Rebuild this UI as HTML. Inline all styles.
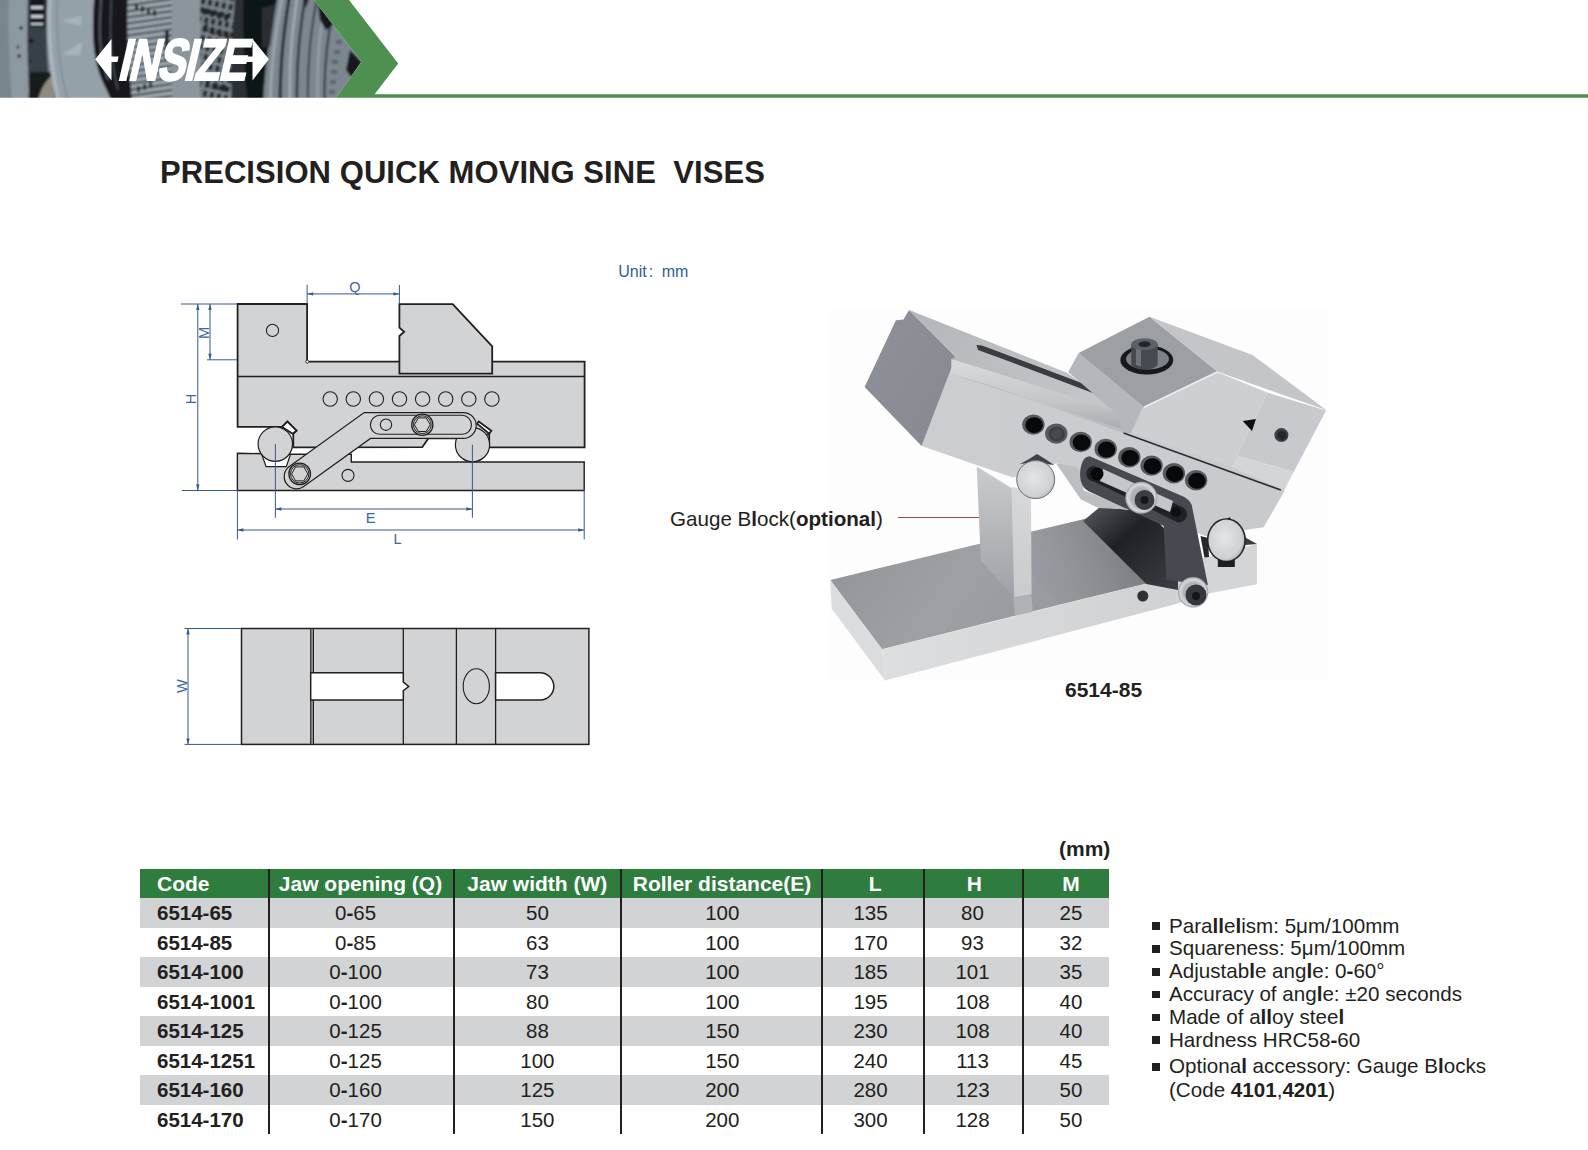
<!DOCTYPE html>
<html><head><meta charset="utf-8">
<style>
*{margin:0;padding:0;box-sizing:border-box}
html,body{width:1588px;height:1150px;overflow:hidden;background:#fff}
body{position:relative;font-family:"Liberation Sans",sans-serif;color:#231f20}
.abs{position:absolute}
#title{left:160px;top:155px;font-size:31px;font-weight:bold;white-space:pre;letter-spacing:0.06px}
#unit{left:618.3px;top:262.5px;font-size:16px;color:#2d5e9c;white-space:pre}
#gauge{left:670px;top:506.5px;font-size:20.6px;white-space:pre}
#gline{left:898px;top:516.6px;width:81px;height:1.3px;background:#a84a40}
#model{left:1065px;top:677.5px;font-size:21px;font-weight:bold}
#mm{left:1059px;top:837px;font-size:21px;font-weight:bold}
.row{position:absolute;left:140px;width:969px;height:29.5px}
.g{background:#d1d3d4}
.hdr{background:#2e7d3e;color:#fff;font-weight:bold}
.c{position:absolute;top:0;height:100%;line-height:29.5px;font-size:20.5px;text-align:center;white-space:nowrap}
.h{font-size:21px;line-height:29.2px}
.vl{position:absolute;top:869px;height:265px;width:2px;background:#231f20}
#bul{left:1152px;top:914.6px;font-size:20.6px;line-height:22.8px}
#bul div{position:relative;padding-left:17px;white-space:nowrap}
#bul .b:before{content:"";position:absolute;left:0;top:7.9px;width:8px;height:7.5px;background:#231f20}
</style></head>
<body>
<!-- HEADER -->
<svg class="abs" style="left:0;top:0" width="1588" height="100" viewBox="0 0 1588 100">
  <defs>
    <clipPath id="hc"><polygon points="0,0 314,0 361.5,62 336,97.7 0,97.7"/></clipPath>
    <filter id="bl" x="-5%" y="-5%" width="110%" height="110%"><feGaussianBlur stdDeviation="1.2"/></filter>
    <pattern id="pt1" width="8" height="6" patternUnits="userSpaceOnUse" patternTransform="rotate(-8)"><rect width="8" height="6" fill="#9aa5ac"/><rect y="4" width="8" height="2" fill="#3e464d"/></pattern>
    <pattern id="pt2" width="7" height="9" patternUnits="userSpaceOnUse" patternTransform="rotate(12)"><rect width="7" height="9" fill="#7a858c"/><rect x="1" y="1" width="4" height="6" fill="#1f252a"/></pattern>
    <linearGradient id="dg" x1="0" y1="0" x2="1" y2="0"><stop offset="0" stop-color="#2a3035"/><stop offset="1" stop-color="#14181b"/></linearGradient>
  </defs>
  <g clip-path="url(#hc)">
   <g filter="url(#bl)">
    <rect x="-10" y="-10" width="390" height="120" fill="#737e86"/>
    <rect x="-10" y="-10" width="20" height="120" fill="#7a868e"/>
    <path d="M9,-10 H29 C27,30 27,60 30,108 H12 C9,60 8,30 9,-10Z" fill="#8d99a1"/>
    <path d="M28,-10 H48 C45,30 46,60 52,108 H30 C27,60 27,30 28,-10Z" fill="#394046"/>
    <path d="M30,-10 H45 V27 H30Z" fill="#16191c"/>
    <rect x="31" y="6" width="12" height="3" fill="#c4ccd1"/>
    <rect x="31" y="15" width="12" height="3" fill="#c4ccd1"/>
    <rect x="31" y="23" width="12" height="2" fill="#c4ccd1"/>
    <path d="M30,72 L50,72 L58,108 L28,108Z" fill="#171a1e"/>
    <path d="M36,108 C40,88 46,80 52,76 L56,108Z" fill="#8f8b7e"/>
    <circle cx="21" cy="28" r="1.8" fill="#1b1f23"/><circle cx="31" cy="41" r="2.5" fill="#1b1f23"/>
    <circle cx="18" cy="47" r="1.5" fill="#2a3035"/><circle cx="19" cy="56" r="1.8" fill="#1b1f23"/><circle cx="30" cy="61" r="1.6" fill="#1b1f23"/>
    <path d="M50,-10 H95 C91,30 93,55 100,75 C104,86 109,93 114,108 H60 C51,75 47,40 50,-10Z" fill="#95a1a9"/>
    <path d="M50,-10 C47,40 51,75 60,108" stroke="#acb6bd" stroke-width="4" fill="none"/>
    <path d="M58,-10 C55,40 60,75 70,108" stroke="#808c94" stroke-width="1.5" fill="none"/>
    <path d="M62,20 L82,16 L80,26Z M62,55 L82,42 L80,55Z" fill="#aab4bb"/>
    <path d="M95,-10 H130 C126,30 128,60 133,108 H114 C109,93 104,86 100,75 C93,55 91,30 95,-10Z" fill="#15191c"/>
    <path d="M102,-10 C98,30 99,55 108,80" stroke="#4d565d" stroke-width="2" fill="none"/>
    <path d="M112,-10 C109,30 110,60 118,90" stroke="#3d454b" stroke-width="2" fill="none"/>
    <path d="M128,-10 H172 V108 H133 C128,60 126,30 128,-10Z" fill="url(#pt1)"/>
    <rect x="172" y="-10" width="28" height="120" fill="#8a959c"/>
    <rect x="200" y="-10" width="45" height="120" fill="url(#pt2)"/>
    <g fill="#20252a">
     <rect x="135" y="4" width="3" height="6"/><rect x="141" y="6" width="3" height="6"/><rect x="147" y="8" width="3" height="6"/><rect x="153" y="10" width="3" height="6"/>
     <rect x="137" y="86" width="3" height="6"/><rect x="143" y="84" width="3" height="6"/><rect x="149" y="82" width="3" height="6"/>
     <rect x="203" y="8" width="4" height="7"/><rect x="210" y="10" width="4" height="7"/><rect x="217" y="12" width="4" height="7"/><rect x="224" y="14" width="4" height="7"/>
     <rect x="204" y="24" width="4" height="8"/><rect x="211" y="27" width="4" height="8"/><rect x="218" y="29" width="4" height="8"/><rect x="225" y="31" width="4" height="8"/>
     <rect x="222" y="84" width="4" height="8"/><rect x="214" y="82" width="4" height="8"/><rect x="206" y="80" width="4" height="8"/>
     <rect x="165" y="30" width="4" height="30"/>
    </g>
    <path d="M236,-10 H262 C257,30 258,60 264,108 H232 C230,60 232,30 236,-10Z" fill="#2a2f34"/>
    <path d="M244,-10 H262 C257,30 258,60 264,108 H248 C244,60 242,30 244,-10Z" fill="#0f1215"/>
    <path d="M262,-10 H370 V108 H262Z" fill="#7c868e"/>
    <path d="M258,-10 H279 C271,30 265,60 263,108 H250Z" fill="#101316"/>
    <path d="M262,8 L276,4 L270,46 L262,48Z" fill="#2a2e33"/>
    <path d="M283,-8 C276,30 271,60 270,108" stroke="#9aa4ab" stroke-width="3" fill="none"/>
    <path d="M290,-8 C284,30 280,60 280,108" stroke="#22282d" stroke-width="3" fill="none"/>
    <path d="M298,-8 C292,30 289,60 290,108" stroke="#a2acb3" stroke-width="2.5" fill="none"/>
    <path d="M306,-8 C300,30 296,60 297,108" stroke="#2a3036" stroke-width="2.5" fill="none"/>
    <path d="M318,-8 C311,30 307,60 308,108" stroke="#353c42" stroke-width="2" fill="none"/>
    <path d="M326,0 C320,30 316,60 318,108" stroke="#9aa4ab" stroke-width="2" fill="none"/>
    <path d="M333,10 C327,40 323,70 325,108" stroke="#2a3036" stroke-width="2" fill="none"/>
    <g fill="#5b656c"><rect x="336" y="40" width="6" height="4"/><rect x="334" y="50" width="6" height="4"/><rect x="332" y="60" width="6" height="4"/><rect x="331" y="70" width="6" height="4"/><rect x="330" y="80" width="6" height="4"/><rect x="329" y="90" width="6" height="4"/></g>
    <path d="M316,-10 L336,-10 L340,20 L326,30 L320,20Z" fill="#14171a"/>
    <path d="M300,-10 L312,-10 L306,8Z" fill="#20252a"/>
    <path d="M350,50 L362,62 L352,78 L346,70Z" fill="#14171a"/>
   </g>
  </g>
  <polygon points="314,0 349,0 398.2,63.5 374.6,94.2 1588,94.2 1588,97.7 336,97.7 361.5,62" fill="#4e8f52"/>
  <!-- logo -->
  <g fill="#fff">
    <polygon points="95.2,59.3 111.5,38.9 111.5,56.6 118.5,56.6 117.5,62 111.5,62 111.5,80.4"/>
    <polygon points="268.9,59.3 252.5,38.9 252.5,56.6 246.5,56.6 245.5,62 252.5,62 252.5,80.4"/>
    <text x="0" y="0" font-family="Liberation Sans" font-weight="bold" font-size="58.5" stroke="#fff" stroke-width="2.2" stroke-linejoin="miter" transform="translate(117,80.2) skewX(-13) scale(0.71,1)" letter-spacing="-1.5">INSIZE</text>
  </g>
</svg>
<!-- DRAWING -->
<svg class="abs" style="left:160px;top:270px" width="450" height="490" viewBox="160 270 450 490">
<g fill="#d1d3d4" stroke="#231f20" stroke-linejoin="miter">
 <!-- base -->
 <polygon stroke-width="1.4" points="237.4,453.2 290.5,454.3 351.3,454.3 351.3,462 584.2,462 584.2,490.5 237.4,490.5"/>
 <polygon fill="#fff" stroke-width="1.2" points="261.7,454.3 266.1,466.6 286.3,466.6 290.5,454.3"/>
 <!-- body -->
 <polygon stroke-width="1.8" points="237.6,304 307.1,304 307.1,361.7 584.6,361.7 584.6,447.4 489.2,447.4 489.2,434 472.5,438.4 428.3,438.4 422.3,447.2 293.3,447.3 293.3,433.5 296.5,430.7 287.4,421.6 282.1,426.9 237.6,426.9"/>
 <line x1="237.6" y1="376.5" x2="584.6" y2="376.5" stroke-width="1.4"/>
 <path fill="#fff" stroke-width="1" d="M305.6,361.7 L307.1,359.6 L309,361.7 L307.1,363.6 Z"/>
 <!-- moving jaw -->
 <polygon stroke-width="1.8" points="399.4,304.1 452.7,304.1 492.2,346.3 492.2,373.6 399.4,373.6 399.4,336 404.2,331.8 399.4,327.6"/>
 <circle cx="272.5" cy="330.4" r="6.1" stroke-width="1.1"/>
 <g stroke-width="1.1" fill="none"><circle cx="330.2" cy="399" r="7.2"/><circle cx="353.3" cy="399" r="7.2"/><circle cx="376.4" cy="399" r="7.2"/><circle cx="399.5" cy="399" r="7.2"/><circle cx="422.6" cy="399" r="7.2"/><circle cx="445.7" cy="399" r="7.2"/><circle cx="468.8" cy="399" r="7.2"/><circle cx="491.9" cy="399" r="7.2"/></g>
 <!-- diamonds -->
 <polygon fill="#fff" stroke-width="1.8" points="282.1,426.9 287.4,421.6 296.5,430.7 292.7,433.8"/>
 <polygon fill="#fff" stroke-width="1.8" points="477,423.7 478.7,421.4 491.4,430.7 489.2,433.8"/>
 <!-- rollers -->
 <circle cx="275.3" cy="444.1" r="17.2" stroke-width="1.2"/>
 <circle cx="472.5" cy="444.7" r="17.1" stroke-width="1.2"/>
 <!-- link -->
 <path stroke-width="1.2" d="M289.3,466.5 L364.2,412.6 L463.3,412.6 A12.9,12.9 0 0 1 463.3,438.4 L370.5,438.4 L303.7,486.5 A12.3,12.3 0 0 1 289.3,466.5 Z"/>
 <path stroke-width="1.1" d="M379.9,415.3 H462 A9.5,9.5 0 0 1 462,434.3 H379.9 A9.5,9.5 0 0 1 379.9,415.3 Z"/>
 <circle cx="386" cy="424.7" r="5.7" stroke-width="1.1"/>
 <circle cx="422.3" cy="424.7" r="10.6" stroke-width="1.3"/>
 <circle cx="422.3" cy="424.7" r="8.9" stroke-width="1"/>
 <polygon stroke-width="1" points="430.2,424.7 426.2,431.5 418.4,431.5 414.4,424.7 418.4,417.9 426.2,417.9"/>
 <circle cx="299.7" cy="473.9" r="10.8" stroke-width="1.3"/>
 <circle cx="299.7" cy="473.9" r="9.2" stroke-width="1"/>
 <polygon stroke-width="1" points="307.8,473.9 303.8,480.9 295.6,480.9 291.6,473.9 295.6,466.9 303.8,466.9"/>
 <circle cx="348" cy="475.4" r="6" stroke-width="1.1"/>
 <!-- top view -->
 <rect x="241.5" y="628.5" width="347.4" height="115.9" stroke-width="1.5"/>
 <rect x="310.7" y="628.5" width="2.8" height="115.9" fill="#8d8f91" stroke-width="1"/>
 <line x1="403.3" y1="628.5" x2="403.3" y2="744.4" stroke-width="1.3"/>
 <line x1="456.4" y1="628.5" x2="456.4" y2="744.4" stroke-width="1.3"/>
 <line x1="495.6" y1="628.5" x2="495.6" y2="744.4" stroke-width="1.3"/>
 <path fill="#fff" stroke-width="1.5" d="M310.7,672.7 H403.3 V682.1 L408.7,686.5 L403.3,690.6 V700.1 H310.7 Z"/>
 <path fill="#fff" stroke-width="1.5" d="M495.6,672.7 H540.1 A13.7,13.7 0 0 1 540.1,700.1 H495.6 Z"/>
 <ellipse cx="476.3" cy="686.3" rx="13.1" ry="17.5" stroke-width="1.1"/>
</g>
<g stroke="#34598f" stroke-width="1" fill="none">
 <path d="M180.9,304 H237 M182,490.5 H237 M197.8,304 V490.5 M207,359.8 H237 M210,304 V359.8"/>
 <path d="M307.1,284.8 V304 M399.4,285 V304 M307.1,293.9 H399.4"/>
 <path d="M275.4,444 V517.8 M472.4,444.7 V517.8 M275.4,509 H472.4"/>
 <path d="M237.4,490 V539.4 M584.2,490 V539.4 M237.4,530 H584.2"/>
 <path d="M184.6,628.5 H241 M184.6,744.4 H241 M188,628.5 V744.4"/>
</g>
<g fill="#34598f">
 <polygon points="197.8,304 196.10000000000002,310 199.5,310"/><polygon points="197.8,490.5 196.10000000000002,484.5 199.5,484.5"/>
 <polygon points="210,304 208.3,310 211.7,310"/><polygon points="210,359.8 208.3,353.8 211.7,353.8"/>
 <polygon points="307.1,293.9 313.1,292.2 313.1,295.59999999999997"/><polygon points="399.4,293.9 393.4,292.2 393.4,295.59999999999997"/>
 <polygon points="275.4,509 281.4,507.3 281.4,510.7"/><polygon points="472.4,509 466.4,507.3 466.4,510.7"/>
 <polygon points="237.4,530 243.4,528.3 243.4,531.7"/><polygon points="584.2,530 578.2,528.3 578.2,531.7"/>
 <polygon points="188,628.5 186.3,634.5 189.7,634.5"/><polygon points="188,744.4 186.3,738.4 189.7,738.4"/>
</g>
<g fill="#3b67a6" font-family="Liberation Sans" font-size="14.5">
 <text x="355" y="292" text-anchor="middle">Q</text>
 <text x="370.5" y="523.2" text-anchor="middle">E</text>
 <text x="397.6" y="544" text-anchor="middle">L</text>
 <text transform="translate(209.2,333) rotate(-90)" text-anchor="middle">M</text>
 <text transform="translate(195.9,398.9) rotate(-90)" text-anchor="middle">H</text>
 <text transform="translate(186.9,686.1) rotate(-90)" text-anchor="middle">W</text>
</g>
</svg>
<!-- PHOTO -->
<svg class="abs" style="left:820px;top:300px" width="520" height="390" viewBox="820 300 520 390">
<defs>
 <linearGradient id="pbase" x1="0" y1="0" x2="1" y2="0.3"><stop offset="0" stop-color="#909398"/><stop offset="0.5" stop-color="#9da0a4"/><stop offset="1" stop-color="#94979b"/></linearGradient>
 <linearGradient id="pfront" x1="0" y1="0" x2="1" y2="0"><stop offset="0" stop-color="#dcdee0"/><stop offset="1" stop-color="#cfd1d3"/></linearGradient>
 <linearGradient id="pgl" x1="0" y1="0" x2="0" y2="1"><stop offset="0" stop-color="#c9cbce"/><stop offset="1" stop-color="#9fa2a6"/></linearGradient>
 <linearGradient id="pgf" x1="0" y1="0" x2="0" y2="1"><stop offset="0" stop-color="#d6d8da"/><stop offset="1" stop-color="#c9cbcd"/></linearGradient>
 <linearGradient id="pdark" x1="0" y1="0" x2="1" y2="1"><stop offset="0" stop-color="#55585d"/><stop offset="0.4" stop-color="#1f2225"/><stop offset="1" stop-color="#3b3e42"/></linearGradient>
 <linearGradient id="pend" x1="0" y1="0" x2="1" y2="1"><stop offset="0" stop-color="#8e9197"/><stop offset="1" stop-color="#868a90"/></linearGradient>
 <linearGradient id="ptop" x1="0" y1="0" x2="1" y2="0.4"><stop offset="0" stop-color="#b3b6ba"/><stop offset="1" stop-color="#c3c5c8"/></linearGradient>
 <linearGradient id="pband" x1="0" y1="0" x2="0" y2="1"><stop offset="0" stop-color="#d9dbdd"/><stop offset="0.6" stop-color="#c4c6c9"/><stop offset="1" stop-color="#a7aaae"/></linearGradient>
 <linearGradient id="pbody" x1="0" y1="0" x2="1" y2="0"><stop offset="0" stop-color="#cbcdd0"/><stop offset="1" stop-color="#c8cacd"/></linearGradient>
 <linearGradient id="pshadow" x1="1" y1="0" x2="0" y2="0.3"><stop offset="0" stop-color="#6a6d72" stop-opacity="0.9"/><stop offset="1" stop-color="#8f9297" stop-opacity="0"/></linearGradient>
 <radialGradient id="proll" cx="0.45" cy="0.45" r="0.6"><stop offset="0" stop-color="#e4e5e7"/><stop offset="0.8" stop-color="#cfd1d4"/><stop offset="1" stop-color="#a9acb0"/></radialGradient>
 <radialGradient id="pwash" cx="0.5" cy="0.5" r="0.5"><stop offset="0.6" stop-color="#aeb1b5"/><stop offset="0.85" stop-color="#d8dadc"/><stop offset="1" stop-color="#9a9da1"/></radialGradient>
</defs>
<rect x="829" y="310" width="499" height="371" fill="#fdfdfd"/>
<!-- base plate -->
<polygon points="830.3,579.9 979.6,543.7 1087,518.5 1146.3,583.5 1020,614.6 882.1,649.3" fill="url(#pbase)"/>
<polygon points="830.3,579.9 882.1,649.3 885,680.4 831.8,608.7" fill="#dadcde"/>
<polygon points="882.1,649.3 1146.3,583.5 1176.9,576 1176.9,603.7 885,680.4" fill="url(#pfront)"/>
<polygon points="1176.9,576 1204.4,557.4 1257,544 1257,584.2 1207.2,593.8 1176.9,603.7" fill="#d3d5d7"/>
<circle cx="1142.8" cy="596" r="5.5" fill="#2d3034"/>
<polygon points="1000,539 1087,518.5 1146.3,583.5 1060,604" fill="url(#pshadow)"/>
<polygon points="1013.2,597.5 1031.3,595.2 1033,612 1015,616" fill="#b4b7ba" opacity="0.8"/>
<!-- dark rail block -->
<polygon points="1083,521 1100,507 1150,512 1178,545 1178,590 1146.3,584" fill="url(#pdark)"/>
<!-- right roller seat -->
<polygon points="1200.5,536 1208,538 1209,557 1204.4,557.4" fill="#26282c"/>
<polygon points="1243.6,536.4 1257,544 1245.5,545" fill="#3a3d42"/>
<!-- gauge block -->
<polygon points="976.7,466.4 1013,489 1014.2,597.2 980.9,561" fill="url(#pgl)"/>
<polygon points="1011.5,487 1030.9,490 1031.6,594.4 1014.2,597.2" fill="url(#pgf)"/>
<!-- hinge slanted piece -->
<polygon points="1056.5,463.9 1082.2,459.2 1083.7,490.3 1131,509.5 1098.4,508 1080.9,499.6" fill="#bcbfc2"/>
<!-- vise body front face -->
<polygon points="955.7,357 1126,414 1237,455.2 1287,472.4 1284,492 1263.6,527.2 1205,536 1100,495 1075.7,466.5 1056,463.5 1012.9,477.6 921.6,446" fill="url(#pbody)"/>
<!-- end face -->
<polygon points="909.1,310 955.7,357 921.6,446 864.6,386.9 895.9,320.2 903.5,319.5" fill="url(#pend)"/>
<!-- top surface -->
<polygon points="909.1,310 1067,372.7 1126.4,414.3 951.3,358.9 955.7,357" fill="url(#ptop)"/>
<!-- slot -->
<polygon points="976.5,345 982,345.5 1091,386.6 1110,399.5 1000,358 978,350" fill="#393c40"/>
<!-- rounded edge band -->
<polygon points="951.3,358.9 1126.4,414.3 1126.4,430.7 951.3,374" fill="url(#pband)"/>
<polygon points="951.3,374 1126.4,430.7 1126.4,434 990,385" fill="#b9bcc0"/>
<!-- holes -->
<ellipse cx="1033.4" cy="424.6" rx="11.2" ry="10.2" fill="#565a60"/><ellipse cx="1034.2" cy="425.20000000000005" rx="8.8" ry="8" fill="#08090b"/><ellipse cx="1056.3" cy="433.6" rx="11.2" ry="10.2" fill="#565a60"/><ellipse cx="1056.8" cy="434.1" rx="8.2" ry="7.4" fill="#3a3e43"/><ellipse cx="1056.8" cy="434.1" rx="5.5" ry="5" fill="#464a50"/><ellipse cx="1080.7" cy="442" rx="11.2" ry="10.2" fill="#565a60"/><ellipse cx="1081.5" cy="442.6" rx="8.8" ry="8" fill="#08090b"/><ellipse cx="1105.7" cy="448.9" rx="11.2" ry="10.2" fill="#565a60"/><ellipse cx="1106.5" cy="449.5" rx="8.8" ry="8" fill="#08090b"/><ellipse cx="1129.3" cy="457.3" rx="11.2" ry="10.2" fill="#565a60"/><ellipse cx="1130.1" cy="457.90000000000003" rx="8.8" ry="8" fill="#08090b"/><ellipse cx="1151.6" cy="465.6" rx="11.2" ry="10.2" fill="#565a60"/><ellipse cx="1152.3999999999999" cy="466.20000000000005" rx="8.8" ry="8" fill="#08090b"/><ellipse cx="1173.9" cy="473.3" rx="11.2" ry="10.2" fill="#565a60"/><ellipse cx="1174.7" cy="473.90000000000003" rx="8.8" ry="8" fill="#08090b"/><ellipse cx="1196.1" cy="480.2" rx="11.2" ry="10.2" fill="#565a60"/><ellipse cx="1196.8999999999999" cy="480.8" rx="8.8" ry="8" fill="#08090b"/>
<!-- moving jaw -->
<polygon points="1068.2,372 1078.6,353 1143.9,407.2 1132.1,432.9 1122.4,432.9 1118,415" fill="#b4b7bb"/>
<polygon points="1078.6,353 1149.5,316.7 1217.7,371.7 1143.9,407.2" fill="#9c9fa4"/>
<polygon points="1149.5,316.7 1252.5,355 1326.2,409.9 1276.1,392.5 1217.7,371.7" fill="#c3c5c8"/>
<polygon points="1142.6,407.7 1216.3,371.8 1267.3,392.6 1237,455.5 1231.4,467 1131.2,432.2" fill="#cdcfd2"/>
<polygon points="1267.3,392.6 1326,410.5 1293.7,472 1237,455.5" fill="#c7c9cc"/>
<polygon points="1237,455.5 1293.7,472 1284.3,490 1231.4,467" fill="#d3d5d7"/>
<line x1="1123.6" y1="433" x2="1280.8" y2="490" stroke="#2a2d31" stroke-width="1.6"/>
<line x1="1143.9" y1="407.2" x2="1217.7" y2="371.7" stroke="#eceef0" stroke-width="1.5"/>
<!-- bolt on jaw -->
<ellipse cx="1146.8" cy="360" rx="26.5" ry="14.5" fill="#16181b"/>
<ellipse cx="1147.5" cy="359" rx="21.5" ry="10.5" fill="#7d8187"/>
<path d="M1131.2,344 V364 A13.2,5.5 0 0 0 1157.7,364 V344 Z" fill="#464a51"/>
<path d="M1136,346 V365 L1141,366.5 V347 Z" fill="#6f747b"/>
<ellipse cx="1144.5" cy="344.2" rx="13.2" ry="6" fill="#5d6168"/>
<ellipse cx="1144.5" cy="344.2" rx="6" ry="3" fill="#23262a"/>
<circle cx="1281.4" cy="435.1" r="7" fill="#3b3e43"/>
<circle cx="1281.8" cy="435.5" r="4.5" fill="#23262a"/>
<path d="M1242.7,421 L1255.9,419 L1252,431 Z" fill="#0d0e10"/>
<!-- rollers -->
<polygon points="1020,464 1030,458.5 1037,454 1046,459.6 1054,465 1036,462" fill="#3e4146"/>
<circle cx="1035.7" cy="479.6" r="19" fill="url(#proll)" stroke="#6c7075" stroke-width="1"/>
<ellipse cx="1226.4" cy="540.2" rx="19.6" ry="22" fill="#26282c"/>
<rect x="1217.8" y="558" width="17" height="9" fill="#1c1e21"/>
<polygon points="1215.8,523 1230,517.2 1232,522" fill="#1c1e21"/>
<ellipse cx="1226.4" cy="540.2" rx="17.9" ry="20.6" fill="url(#proll)"/>
<!-- link -->
<path d="M1089.6,456.3 L1182.7,496.2 Q1192,500 1192.5,509 L1207.9,585 L1166.5,580 L1163.5,525.8 L1089,491.5 Q1080,487 1080,474 Q1081,457 1089.6,456.3 Z" fill="#46494f"/>
<path d="M1094,466 L1181,506.5 A8,8 0 0 1 1177,522 L1094,481.4 A7.7,7.7 0 0 1 1094,466 Z" fill="#1f2124"/>
<path d="M1103,469 L1173,501 L1170,512 L1100,481 Z" fill="#c4c7ca"/>
<circle cx="1097" cy="474" r="6.5" fill="#08090b"/>
<circle cx="1176" cy="512" r="5" fill="#0e0f11"/>
<circle cx="1141.3" cy="497.7" r="16" fill="url(#pwash)"/>
<circle cx="1144.5" cy="500" r="10" fill="#3a3d42"/>
<circle cx="1144.5" cy="500" r="4" fill="#151719"/>
<circle cx="1193.1" cy="592.3" r="15.2" fill="url(#pwash)"/>
<circle cx="1196" cy="595" r="10.5" fill="#34373c"/>
<circle cx="1196" cy="596" r="4" fill="#121416"/>
</svg>
<!-- TITLE -->
<div id="title" class="abs">PRECISION QUICK MOVING SINE  VISES</div>
<div id="unit" class="abs">Unit<span style="margin:0 8.5px 0 2px">:</span>mm</div>
<div id="gauge" class="abs">Gauge B<b>l</b>ock(<b>optional</b>)</div>
<div id="gline" class="abs"></div>
<div id="model" class="abs">6514<b>-</b>85</div>
<div id="mm" class="abs">(mm)</div>

<!-- TABLE -->
<div class="row hdr" style="top:869.2px;height:29.2px">
 <div class="c h" style="left:17px;text-align:left">Code</div>
 <div class="c h" style="left:120.5px;width:200px">Jaw opening (Q)</div>
 <div class="c h" style="left:297.3px;width:200px">Jaw width (W)</div>
 <div class="c h" style="left:482.0px;width:200px">Roller distance(E)</div>
 <div class="c h" style="left:635.2px;width:200px">L</div>
 <div class="c h" style="left:734.3px;width:200px">H</div>
 <div class="c h" style="left:831.0px;width:200px">M</div>
</div>
<div class="row g" style="top:898.4px">
 <div class="c" style="left:17px;text-align:left;font-weight:bold">6514-65</div>
 <div class="c" style="left:155.6px;width:120px">0<b>-</b>65</div>
 <div class="c" style="left:337.4px;width:120px">50</div>
 <div class="c" style="left:522.3px;width:120px">100</div>
 <div class="c" style="left:670.5px;width:120px">135</div>
 <div class="c" style="left:772.5px;width:120px">80</div>
 <div class="c" style="left:871.0px;width:120px">25</div>
</div>
<div class="row" style="top:927.9px">
 <div class="c" style="left:17px;text-align:left;font-weight:bold">6514-85</div>
 <div class="c" style="left:155.6px;width:120px">0<b>-</b>85</div>
 <div class="c" style="left:337.4px;width:120px">63</div>
 <div class="c" style="left:522.3px;width:120px">100</div>
 <div class="c" style="left:670.5px;width:120px">170</div>
 <div class="c" style="left:772.5px;width:120px">93</div>
 <div class="c" style="left:871.0px;width:120px">32</div>
</div>
<div class="row g" style="top:957.4px">
 <div class="c" style="left:17px;text-align:left;font-weight:bold">6514-100</div>
 <div class="c" style="left:155.6px;width:120px">0<b>-</b>100</div>
 <div class="c" style="left:337.4px;width:120px">73</div>
 <div class="c" style="left:522.3px;width:120px">100</div>
 <div class="c" style="left:670.5px;width:120px">185</div>
 <div class="c" style="left:772.5px;width:120px">101</div>
 <div class="c" style="left:871.0px;width:120px">35</div>
</div>
<div class="row" style="top:986.9px">
 <div class="c" style="left:17px;text-align:left;font-weight:bold">6514-1001</div>
 <div class="c" style="left:155.6px;width:120px">0<b>-</b>100</div>
 <div class="c" style="left:337.4px;width:120px">80</div>
 <div class="c" style="left:522.3px;width:120px">100</div>
 <div class="c" style="left:670.5px;width:120px">195</div>
 <div class="c" style="left:772.5px;width:120px">108</div>
 <div class="c" style="left:871.0px;width:120px">40</div>
</div>
<div class="row g" style="top:1016.4px">
 <div class="c" style="left:17px;text-align:left;font-weight:bold">6514-125</div>
 <div class="c" style="left:155.6px;width:120px">0<b>-</b>125</div>
 <div class="c" style="left:337.4px;width:120px">88</div>
 <div class="c" style="left:522.3px;width:120px">150</div>
 <div class="c" style="left:670.5px;width:120px">230</div>
 <div class="c" style="left:772.5px;width:120px">108</div>
 <div class="c" style="left:871.0px;width:120px">40</div>
</div>
<div class="row" style="top:1045.9px">
 <div class="c" style="left:17px;text-align:left;font-weight:bold">6514-1251</div>
 <div class="c" style="left:155.6px;width:120px">0<b>-</b>125</div>
 <div class="c" style="left:337.4px;width:120px">100</div>
 <div class="c" style="left:522.3px;width:120px">150</div>
 <div class="c" style="left:670.5px;width:120px">240</div>
 <div class="c" style="left:772.5px;width:120px">113</div>
 <div class="c" style="left:871.0px;width:120px">45</div>
</div>
<div class="row g" style="top:1075.4px">
 <div class="c" style="left:17px;text-align:left;font-weight:bold">6514-160</div>
 <div class="c" style="left:155.6px;width:120px">0<b>-</b>160</div>
 <div class="c" style="left:337.4px;width:120px">125</div>
 <div class="c" style="left:522.3px;width:120px">200</div>
 <div class="c" style="left:670.5px;width:120px">280</div>
 <div class="c" style="left:772.5px;width:120px">123</div>
 <div class="c" style="left:871.0px;width:120px">50</div>
</div>
<div class="row" style="top:1104.9px">
 <div class="c" style="left:17px;text-align:left;font-weight:bold">6514-170</div>
 <div class="c" style="left:155.6px;width:120px">0<b>-</b>170</div>
 <div class="c" style="left:337.4px;width:120px">150</div>
 <div class="c" style="left:522.3px;width:120px">200</div>
 <div class="c" style="left:670.5px;width:120px">300</div>
 <div class="c" style="left:772.5px;width:120px">128</div>
 <div class="c" style="left:871.0px;width:120px">50</div>
</div>
<div class="vl" style="left:268px"></div>
<div class="vl" style="left:452.5px"></div>
<div class="vl" style="left:619.5px"></div>
<div class="vl" style="left:820.5px"></div>
<div class="vl" style="left:922.5px"></div>
<div class="vl" style="left:1022px"></div>

<!-- BULLETS -->
<div id="bul" class="abs">
<div class="b">Para<b>ll</b>e<b>l</b>ism: 5μm/100mm</div>
<div class="b">Squareness: 5μm/100mm</div>
<div class="b">Adjustab<b>l</b>e ang<b>l</b>e: 0<b>-</b>60°</div>
<div class="b">Accuracy of ang<b>l</b>e: ±20 seconds</div>
<div class="b">Made of a<b>ll</b>oy stee<b>l</b></div>
<div class="b">Hardness HRC58<b>-</b>60</div>
<div class="b" style="margin-top:4px">Optiona<b>l</b> accessory: Gauge B<b>l</b>ocks</div>
<div style="margin-top:1px">(Code <b>4101</b>,<b>4201</b>)</div>
</div>
</body></html>
